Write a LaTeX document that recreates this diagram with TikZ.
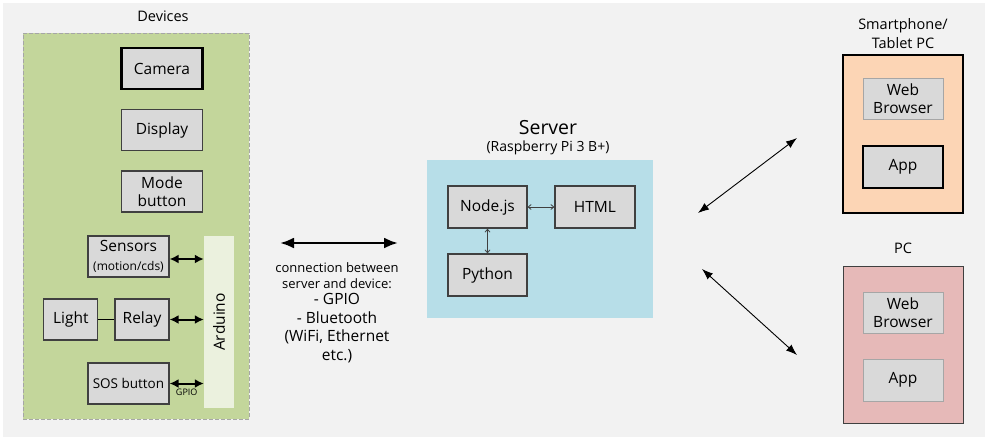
\documentclass[tikz,border=0pt]{standalone}
\usepackage{fontspec}
\setmainfont{Open Sans}
\usepackage{tikz}
\usetikzlibrary{arrows.meta,positioning,shapes}

\definecolor{canvas}{HTML}{F2F2F2}
\definecolor{devgreen}{HTML}{C3D69B}
\definecolor{ardgreen}{HTML}{EBF1DE}
\definecolor{srvblue}{HTML}{B7DEE8}
\definecolor{phonepeach}{HTML}{FCD5B5}
\definecolor{pcpink}{HTML}{E6B9B8}
\definecolor{unitgray}{HTML}{D9D9D9}
\definecolor{unitline}{HTML}{404040}
\definecolor{paleline}{HTML}{A6A6A6}

\begin{document}
\begin{tikzpicture}
	[
		x=1pt, y=-1pt,
		every node/.style = {font=\fontsize{15.5}{18.5}\selectfont, align=center, inner sep=0pt},
		unit/.style = {draw=unitline, fill=unitgray, line width=1.2pt, minimum width=81pt, minimum height=41pt},
		boldunit/.style = {unit, draw=black, line width=2.4pt},
		paleunit/.style = {unit, draw=paleline, line width=1pt},
		panel/.style = {minimum width=120pt, minimum height=158pt},
		caption/.style = {font=\fontsize{14.5}{19}\selectfont},
		devlink/.style = {line width=2pt, {Latex[length=9pt,width=9pt]}-{Latex[length=9pt,width=9pt]}},
		srvlink/.style = {draw=unitline, line width=0.8pt, {Straight Barb[length=3pt,width=5pt]}-{Straight Barb[length=3pt,width=5pt]}},
		netlink/.style = {line width=0.9pt, {Latex[length=11pt,width=8pt]}-{Latex[length=11pt,width=8pt]}},
	]

	\useasboundingbox (0,0) rectangle (989,440);
	\fill[canvas] (3,3) rectangle (985,437);

	\node[draw=paleline, fill=devgreen, dash pattern=on 4pt off 2pt, line width=1pt,
		minimum width=226pt, minimum height=386pt] (devices) at (136,226) {};
	\node[caption] (devtitle) at (163,16) {Devices};

	\node[boldunit] (camera) at (162,68.5) {Camera};
	\node[unit, below=19pt of camera] (display) {Display};
	\node[unit, below=19pt of display] (mode) {Mode\\button};

	\node[fill=ardgreen, minimum width=30pt, minimum height=172pt] (arduino) at (219,322) {};
	\node[rotate=90] (ardlabel) at (arduino) {Arduino};

	\node[unit] (sensors) at (128.5,256.5) {Sensors\\{\fontsize{12}{16}\selectfont(motion/cds)}};
	\node[unit, minimum width=54pt] (relay) at (142,319.5) {Relay};
	\node[unit, minimum width=54pt, left=16pt of relay] (light) {Light};
	\node[unit] (sos) at (128.5,383.5) {\fontsize{13.5}{16}\selectfont SOS button};

	\node[font=\fontsize{19.5}{22}\selectfont] (srvtitle) at (548,128) {Server};
	\node[font=\fontsize{14}{16}\selectfont, below=5pt of srvtitle] (srvsub) {(Raspberry Pi 3 B+)};
	\node[fill=srvblue, minimum width=226pt, minimum height=158pt] (server) at (540,239) {};
	\node[unit, minimum width=79pt, minimum height=42pt] (nodejs) at (487.5,207) {Node.js};
	\node[unit, minimum width=80pt, minimum height=42pt] (html) at (595,207) {HTML};
	\node[unit, minimum width=79pt, minimum height=42pt] (python) at (487.5,275) {Python};

	\coordinate (linkL) at (280,243);
	\coordinate (linkR) at (398,243);
	\node[font=\fontsize{13}{16}\selectfont] (linktext) at (337,276) {connection between\\server and device:};
	\node[below=4pt of linktext] (linkmedia) {- GPIO\\- Bluetooth\\(WiFi, Ethernet\\etc.)};

	\node[caption] (phonetitle) at (903,33.5) {Smartphone/\\Tablet PC};
	\node[panel, draw=black, fill=phonepeach, line width=2.4pt] (phone) at (903,134) {};
	\node[paleunit, minimum width=80pt] (phoneweb) at (903,98.5) {Web\\Browser};
	\node[boldunit, minimum width=80pt, minimum height=42pt] (phoneapp) at (903,167) {App};

	\node[caption] (pctitle) at (903,248) {PC};
	\node[panel, draw=unitline, fill=pcpink, line width=1pt, minimum height=157pt] (pc) at (903,344.5) {};
	\node[paleunit, minimum width=80pt] (pcweb) at (903,312.5) {Web\\Browser};
	\node[paleunit, minimum width=80pt, minimum height=42pt] (pcapp) at (903,380) {App};

	\coordinate (phoneL) at (698,213);
	\coordinate (phoneR) at (797,138);
	\coordinate (pcL) at (702,269);
	\coordinate (pcR) at (797,355);

	\path
	(light) edge[line width=1pt] (relay)
	([yshift=-2.5pt]sensors.east) edge[devlink] ([yshift=-2.5pt]sensors.east -| arduino.west)
	(relay.east) edge[devlink] (relay.east -| arduino.west)
	(sos.east) edge[devlink] node[below=4pt, font=\fontsize{9}{10}\selectfont] {GPIO} (sos.east -| arduino.west)
	(nodejs) edge[srvlink] (html)
	(nodejs) edge[srvlink] (python)
	(linkL) edge[line width=2.5pt, {Latex[length=14pt,width=11pt]}-{Latex[length=14pt,width=11pt]}] (linkR)
	(phoneL) edge[netlink] (phoneR)
	(pcL) edge[netlink] (pcR);

\end{tikzpicture}
\end{document}
